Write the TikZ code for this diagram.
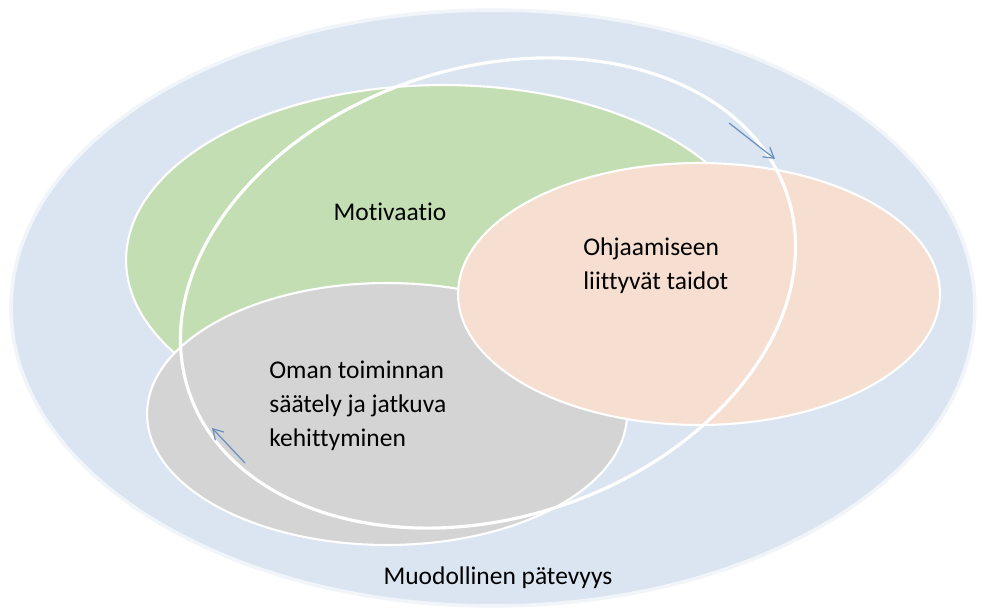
\documentclass[tikz,border=0pt]{standalone}
\usepackage{fontspec}
\setmainfont{Carlito}[Ligatures=NoCommon]
\usepackage{tikz}
\usetikzlibrary{shapes.geometric,arrows.meta,positioning}
\definecolor{bgblue}{RGB}{219,229,241}
\definecolor{motgreen}{RGB}{196,222,179}
\definecolor{ohjpeach}{RGB}{246,222,208}
\definecolor{omagrey}{RGB}{212,212,212}
\definecolor{arrblue}{RGB}{105,145,190}
\tikzset{
  blob/.style={ellipse,draw=white,line width=1.2pt,inner sep=0pt},
  ring/.style={ellipse,draw=white,line width=1.8pt,inner sep=0pt},
  arr/.style={-{Straight Barb[length=2mm,width=2.4mm]},draw=arrblue,line width=0.7pt},
  lbl/.style={font=\fontsize{14.5}{19.3}\selectfont,align=left,inner sep=0pt}
}
\begin{document}
\begin{tikzpicture}[x=0.02cm,y=-0.02cm]
\useasboundingbox[fill=white] (0,0) rectangle (982,611);
% kehät
\node[blob,fill=bgblue,draw=white!60!bgblue,line width=2pt,minimum width=19.28cm,minimum height=11.92cm] (pat) at (493,308) {};
\node[blob,fill=motgreen,minimum width=12.68cm,minimum height=7cm] (mot) at (443,260) {};
\node[blob,fill=omagrey,minimum width=9.6cm,minimum height=5.24cm] (oma) at (387,414) {};
\node[blob,fill=ohjpeach,minimum width=9.64cm,minimum height=5.24cm] (ohj) at (699,294) {};
\node[ring,rotate=18,minimum width=12.6cm,minimum height=9cm] (kierto) at (488,293) {};
% nuolet
\coordinate (n1a) at (729,123);
\coordinate (n1b) at (775,159);
\coordinate (n2a) at (245,463);
\coordinate (n2b) at (212,428);
\draw[arr] (n1a) -- (n1b);
\draw[arr] (n2a) -- (n2b);
% tekstit
\node[lbl] (tmot) at (390,212) {Motivaatio};
\node[lbl,anchor=west] (tohj) at (583,266) {Ohjaamiseen\\liittyvät taidot};
\node[lbl,anchor=west] (toma) at (269,406) {Oman toiminnan\\säätely ja jatkuva\\kehittyminen};
\node[lbl] (tpat) at (498,578) {Muodollinen pätevyys};
\end{tikzpicture}
\end{document}
